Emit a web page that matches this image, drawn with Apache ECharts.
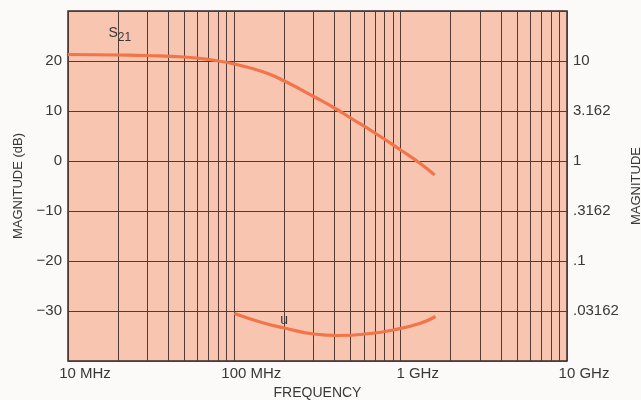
<!DOCTYPE html>
<html>
<head>
<meta charset="utf-8">
<script src="https://cdn.jsdelivr.net/npm/echarts@6/dist/echarts.min.js"></script>
<style>html,body{margin:0;padding:0;background:#fbfaf9;}#c{width:641px;height:400px;}</style>
</head>
<body>
<div id="c"></div>
<script>
// Frequencies in MHz
var s21Freq = [10, 20, 30, 50, 70, 100, 150, 200, 300, 400, 500, 700, 1000, 1300, 1600];
var s21Db   = [21.3, 21.2, 21.1, 20.8, 20.3, 19.4, 17.8, 16.0, 12.9, 10.6, 8.6, 5.6, 2.2, -0.4, -2.8];
var uFreq = [100, 150, 200, 300, 420, 660, 900, 1300, 1620];
var uDb   = [-30.5, -32.4, -33.4, -34.6, -34.9, -34.5, -33.8, -32.5, -31.1];
var gridFreqs = [20,30,40,50,60,70,80,90,100,200,300,400,500,600,700,800,900,1000,2000,3000,4000,5000,6000,7000,8000,9000];
var xTickLabels = {10: '10 MHz', 100: '100 MHz', 1000: '1 GHz', 10000: '10 GHz'};
var dbTicks = [20, 10, 0, -10, -20, -30];
var dbTickLabels = ['20', '10', '0', '\u221210', '\u221220', '\u221230'];
var magTickLabels = ['10', '3.162', '1', '.3162', '.1', '.03162'];

var chart = echarts.init(document.getElementById('c'));
var gridColor = '#543a34';
var curveColor = '#f27449';
var font = 'Liberation Sans, Arial, sans-serif';
var txt = '#383838';

function zip(a, b) { return a.map(function (v, i) { return [v, b[i]]; }); }

chart.setOption({
  animation: false,
  grid: { left: 68, right: 74, top: 11, bottom: 39, containLabel: false, outerBoundsMode: 'none',
          show: true, backgroundColor: '#f8c5b1', borderColor: '#3a2a26', borderWidth: 1.5 },
  xAxis: {
    type: 'log', logBase: 10, min: 10, max: 10000,
    name: 'FREQUENCY', nameLocation: 'middle', nameGap: 25,
    nameTextStyle: { fontFamily: font, fontSize: 14, color: txt },
    axisLine: { show: false }, axisTick: { show: false },
    splitLine: { show: true, lineStyle: { color: gridColor, width: 1 } },
    axisLabel: {
      margin: 5, color: txt, fontFamily: font, fontSize: 15,
      formatter: function (v) { return '{a|' + (xTickLabels[Math.round(v)] || '') + '}'; },
      rich: { a: { padding: [0, 0, 0, 34], fontFamily: font, fontSize: 15, color: txt } }
    }
  },
  yAxis: [{
    type: 'value', min: -40, max: 30, interval: 10,
    name: 'MAGNITUDE (dB)', nameLocation: 'middle', nameGap: 43, nameRotate: 90,
    nameTextStyle: { fontFamily: font, fontSize: 13, color: txt },
    axisLine: { show: false }, axisTick: { show: false },
    splitLine: { show: true, lineStyle: { color: gridColor, width: 1 } },
    axisLabel: {
      margin: 6, color: txt, fontFamily: font, fontSize: 15,
      formatter: function (v) { var i = dbTicks.indexOf(v); return i < 0 ? '' : dbTickLabels[i]; }
    }
  }, {
    type: 'value', min: -40, max: 30, interval: 10, position: 'right',
    name: 'MAGNITUDE', nameLocation: 'middle', nameGap: 56, nameRotate: 90,
    nameTextStyle: { fontFamily: font, fontSize: 13, color: txt },
    axisLine: { show: false }, axisTick: { show: false }, splitLine: { show: false },
    axisLabel: {
      margin: 6, color: txt, fontFamily: font, fontSize: 15,
      formatter: function (v) { var i = dbTicks.indexOf(v); return i < 0 ? '' : magTickLabels[i]; }
    }
  }],
  series: [{
    type: 'line', data: zip(s21Freq, s21Db), smooth: 0.5, showSymbol: false,
    lineStyle: { color: curveColor, width: 3.2 }, z: 5,
    markLine: {
      silent: true, symbol: 'none', label: { show: false },
      lineStyle: { color: gridColor, width: 1, type: 'solid' },
      data: gridFreqs.map(function (f) { return { xAxis: f }; })
    },
    markPoint: {
      symbol: 'rect', symbolSize: 1, itemStyle: { color: 'rgba(0,0,0,0)' },
      label: { show: true, formatter: '{s|S}{b|21}', rich: {
        s: { fontFamily: font, fontSize: 14, color: txt },
        b: { fontFamily: font, fontSize: 12, color: txt, padding: [9, 0, 0, 0] } } },
      data: [{ coord: [20.5, 25.5] }]
    }
  }, {
    type: 'line', data: zip(uFreq, uDb), smooth: 0.5, showSymbol: false,
    lineStyle: { color: curveColor, width: 3.2 }, z: 5,
    markPoint: {
      symbol: 'rect', symbolSize: 1, itemStyle: { color: 'rgba(0,0,0,0)' },
      label: { show: true, formatter: 'u', fontFamily: font, fontSize: 14, color: txt },
      data: [{ coord: [199, -31.8] }]
    }
  }]
});
</script>
</body>
</html>
